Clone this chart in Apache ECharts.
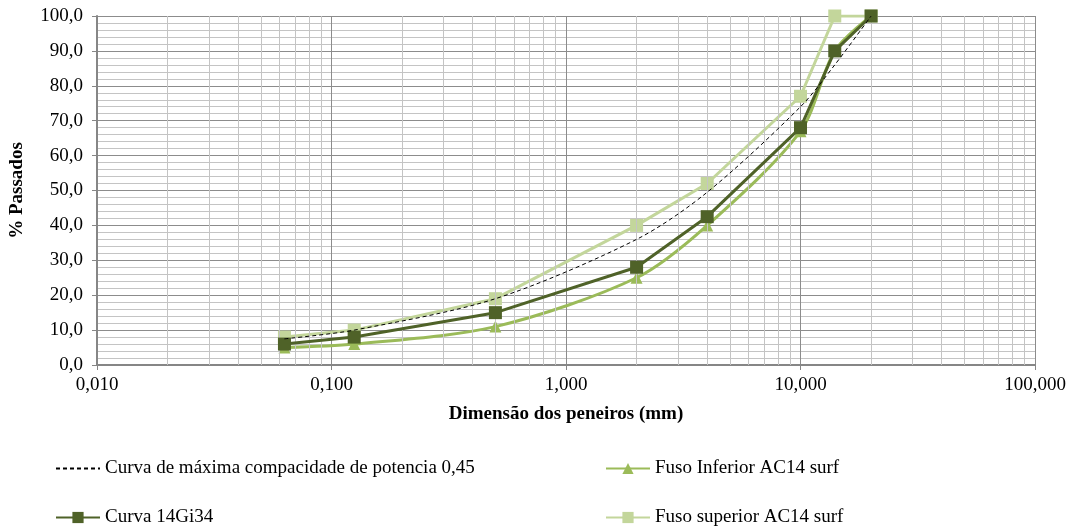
<!DOCTYPE html>
<html>
<head>
    <meta charset="utf-8">
    <title>Curvas granulométricas</title>
    <script src="https://cdn.jsdelivr.net/npm/echarts@6/dist/echarts.min.js"></script>
</head>
<body style="margin:0;background:#fff;">
<div id="main" style="width: 1078px;height:530px;"></div>
<script type="text/javascript">
    // dimensões dos peneiros (mm)
    var peneiros = [0.063, 0.125, 0.5, 2, 4, 10, 14, 20];
    // % passados
    var curvaMaxima = [7.5, 10, 19, 36, 49.5, 74, 86, 100];
    var fusoInferior = [5, 6, 11, 25, 40, 67, 90, 100];
    var curva14Gi34 = [6, 8, 15, 28, 42.5, 68, 90, 100];
    var fusoSuperior = [8, 10, 19, 40, 52, 77, 100, 100];

    var nomes = ['Curva de máxima compacidade de potencia 0,45', 'Fuso Inferior AC14 surf',
        'Curva 14Gi34', 'Fuso superior AC14 surf'];

    var fonte = '"Liberation Serif", "Times New Roman", serif';
    var tam = 19;

    function pares(ys) {
        return peneiros.map(function (x, i) { return [x, ys[i]]; });
    }

    // linhas verticais secundárias da escala log (2..9 x 10^k)
    var linhasMenores = [];
    for (var k = -2; k < 2; k++) {
        for (var m = 2; m <= 9; m++) {
            linhasMenores.push({xAxis: m * Math.pow(10, k)});
        }
    }

    var legendaBase = {
        orient: 'vertical',
        top: 459,
        height: 90,
        padding: 0,
        itemWidth: 44, itemHeight: 14, itemGap: 30,
        textStyle: {fontFamily: fonte, fontSize: tam, color: '#000'}
    };

    var myChart = echarts.init(document.getElementById('main'), null, {renderer: 'canvas'});
    var option = {
        animation: false,
        textStyle: {fontFamily: fonte},
        grid: {left: 96, right: 43, top: 16, bottom: 165},
        legend: [
            Object.assign({}, legendaBase, {
                left: 55,
                data: [{name: nomes[0], itemStyle: {opacity: 0}}, nomes[2]]
            }),
            Object.assign({}, legendaBase, {
                left: 605,
                data: [nomes[1], nomes[3]]
            })
        ],
        xAxis: {
            type: 'log',
            logBase: 10,
            min: 0.01,
            max: 100,
            name: 'Dimensão dos peneiros (mm)',
            nameLocation: 'middle',
            nameGap: 40,
            nameTextStyle: {fontFamily: fonte, fontSize: tam, fontWeight: 'bold', color: '#000'},
            axisLine: {lineStyle: {color: '#868686', width: 2}},
            axisTick: {show: true, length: 5, lineStyle: {color: '#868686'}},
            axisLabel: {
                fontFamily: fonte, fontSize: tam, color: '#000', margin: 11,
                formatter: function (v) { return v.toFixed(3).replace('.', ','); }
            },
            splitLine: {show: true, lineStyle: {color: '#8c8c8c', width: 1}}
        },
        yAxis: {
            type: 'value',
            min: 0,
            max: 100,
            interval: 10,
            name: '% Passados',
            nameLocation: 'middle',
            nameGap: 70,
            nameTextStyle: {fontFamily: fonte, fontSize: tam, fontWeight: 'bold', color: '#000'},
            axisLine: {show: true, lineStyle: {color: '#868686', width: 2}},
            axisTick: {show: true, length: 5, lineStyle: {color: '#868686'}},
            axisLabel: {
                fontFamily: fonte, fontSize: tam, color: '#000', margin: 14,
                formatter: function (v) { return v.toFixed(1).replace('.', ','); }
            },
            splitLine: {show: true, lineStyle: {color: '#8c8c8c', width: 1}},
            minorTick: {show: false, splitNumber: 5},
            minorSplitLine: {show: true, lineStyle: {color: '#c4c4c4', width: 1}}
        },
        series: [{
            name: 'grade',
            type: 'line',
            data: [],
            silent: true,
            z: 1,
            markLine: {
                silent: true,
                symbol: 'none',
                label: {show: false},
                lineStyle: {color: '#c4c4c4', width: 1, type: 'solid'},
                data: linhasMenores
            }
        }, {
            name: nomes[1],
            type: 'line',
            data: pares(fusoInferior),
            smooth: 0.3,
            symbol: 'triangle',
            symbolSize: 12,
            z: 3,
            lineStyle: {color: '#9BBB59', width: 3},
            itemStyle: {color: '#9BBB59'}
        }, {
            name: nomes[3],
            type: 'line',
            data: pares(fusoSuperior),
            symbol: 'rect',
            symbolSize: 13,
            z: 4,
            lineStyle: {color: '#C3D69B', width: 3},
            itemStyle: {color: '#C3D69B'}
        }, {
            name: nomes[2],
            type: 'line',
            data: pares(curva14Gi34),
            symbol: 'rect',
            symbolSize: 13,
            z: 5,
            lineStyle: {color: '#4F6228', width: 3},
            itemStyle: {color: '#4F6228'}
        }, {
            name: nomes[0],
            type: 'line',
            data: pares(curvaMaxima),
            smooth: 0.3,
            symbol: 'none',
            z: 6,
            lineStyle: {color: '#000', width: 1, type: [4, 3]},
            itemStyle: {color: '#000'}
        }]
    };
    myChart.setOption(option);
</script>
</body>
</html>
